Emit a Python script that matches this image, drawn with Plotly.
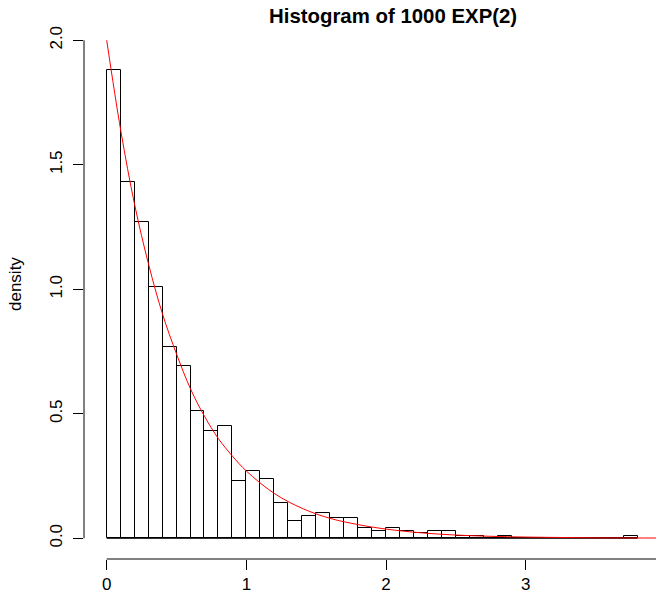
import plotly.graph_objects as go

# ---- data ----
bin_width = 0.1
bin_lefts = [round(i * 0.1, 1) for i in range(38)]  # breaks 0.0 .. 3.8
density = [1.88, 1.43, 1.27, 1.01, 0.77, 0.69, 0.51, 0.43, 0.45, 0.23,
           0.27, 0.24, 0.14, 0.07, 0.09, 0.10, 0.08, 0.08, 0.04, 0.03,
           0.04, 0.03, 0.02, 0.03, 0.03, 0.01, 0.01, 0.00, 0.01, 0.00,
           0.00, 0.00, 0.00, 0.00, 0.00, 0.00, 0.00, 0.01]

curve_x = [0.0, 0.1, 0.2, 0.3, 0.4, 0.5, 0.6, 0.7, 0.8, 0.9, 1.0, 1.2, 1.4,
           1.6, 1.8, 2.0, 2.25, 2.5, 2.75, 3.0, 3.5, 4.0]
curve_y = [2.00, 1.64, 1.34, 1.10, 0.90, 0.74, 0.60, 0.49, 0.40, 0.33, 0.27,
           0.18, 0.12, 0.08, 0.055, 0.037, 0.022, 0.013, 0.008, 0.005,
           0.002, 0.001]

x_ticks = [0, 1, 2, 3]
x_last_tick = 4
y_ticks = [0.0, 0.5, 1.0, 1.5, 2.0]
y_ticktext = ["0.0", "0.5", "1.0", "1.5", "2.0"]
x_axis_span = [0, 4]
y_axis_span = [0, 2]

title_text = "Histogram of 1000 EXP(2)"
ylab_text = "density"

# ---- layout geometry ----
OFF = 8                       # page body margin offset (screen = figure + OFF)
W, H = 664 - OFF, 592 - OFF
x0_scr, x_scale = 106.7, 139.7    # screen pixel of x=0, px per unit
y0_scr, y_scale = 538.3, 249.0    # screen pixel of y=0, px per unit
L, R, T, B = 76, 0, 12, 33
PW, PH = W - L - R, H - T - B

x_lo = (L + OFF - x0_scr) / x_scale
x_hi = (W - R + OFF - x0_scr) / x_scale
y_hi = (y0_scr - (T + OFF)) / y_scale
y_lo = (y0_scr - (H - B + OFF)) / y_scale


def sx(px):   # screen px -> paper x
    return (px - OFF - L) / PW


def sy(py):   # screen px -> paper y
    return (H - B - (py - OFF)) / PH


font_family = "Liberation Sans, Arial, Helvetica, sans-serif"
centers = [b + bin_width / 2 for b in bin_lefts]

fig = go.Figure()
fig.add_trace(go.Bar(
    x=centers, y=density, width=bin_width,
    marker=dict(color="rgba(255,255,255,0)", line=dict(color="black", width=1)),
    showlegend=False, hoverinfo="skip",
))
# histogram baseline (visible for empty bins)
fig.add_trace(go.Scatter(
    x=[bin_lefts[0], bin_lefts[-1] + bin_width], y=[0, 0], mode="lines",
    line=dict(color="black", width=1), showlegend=False, hoverinfo="skip",
))
fig.add_trace(go.Scatter(
    x=curve_x, y=curve_y, mode="lines", line=dict(color="red", width=1, shape="spline"),
    showlegend=False, hoverinfo="skip",
))

fig.update_layout(
    template="none",
    width=W, height=H,
    margin=dict(l=L, r=R, t=T, b=B, pad=0, autoexpand=False),
    paper_bgcolor="white", plot_bgcolor="white",
    bargap=0,
    font=dict(family=font_family, size=17, color="black"),
    xaxis=dict(
        range=[x_lo, x_hi], showgrid=False, zeroline=False, showline=False,
        automargin=False,
        ticks="outside", ticklen=10, tickwidth=1, tickcolor="black",
        tickvals=x_ticks, tickfont=dict(size=17), ticklabelstandoff=0,
    ),
    yaxis=dict(
        range=[y_lo, y_hi], showgrid=False, zeroline=False, showline=False,
        automargin=False,
        ticks="outside", ticklen=10, tickwidth=1, tickcolor="black",
        tickvals=y_ticks, ticktext=y_ticktext, tickangle=-90, tickfont=dict(size=17),
        ticklabelstandoff=4,
    ),
    shapes=[
        dict(type="line", xref="x", yref="paper", x0=x_axis_span[0], x1=x_axis_span[1],
             y0=0, y1=0, line=dict(color="black", width=1)),
        dict(type="line", xref="paper", yref="y", x0=0, x1=0,
             y0=y_axis_span[0], y1=y_axis_span[1], line=dict(color="black", width=1)),
    ],
    annotations=[
        dict(text="<b>" + title_text + "</b>", xref="paper", yref="paper",
             x=sx(393), y=sy(16), xanchor="center", yanchor="middle",
             showarrow=False, font=dict(size=20.4)),
        dict(text=ylab_text, xref="paper", yref="paper", textangle=-90,
             x=sx(15), y=sy(284), xanchor="center", yanchor="middle",
             showarrow=False, font=dict(size=17)),
        dict(text=str(x_last_tick), xref="paper", yref="paper",
             x=sx(x0_scr + x_last_tick * x_scale), y=sy(583),
             xanchor="center", yanchor="middle", showarrow=False, font=dict(size=17)),
    ],
)

fig.write_html("out.html")
